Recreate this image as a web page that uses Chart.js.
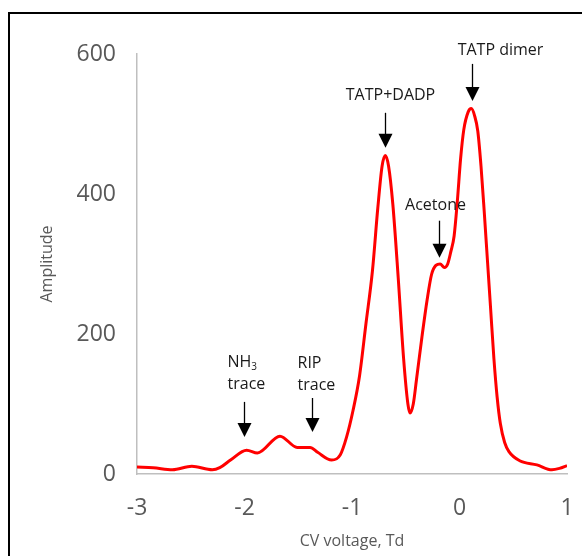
<!DOCTYPE html>
<html>
<head>
<meta charset="utf-8">
<script src="https://cdn.jsdelivr.net/npm/chart.js@4.4.1/dist/chart.umd.min.js"></script>
<style>
  html, body { margin: 0; padding: 0; background: #ffffff; }
  #specWrap { width: 582px; height: 556px; position: relative; }
</style>
</head>
<body>
<div id="specWrap"><canvas id="specChart" width="582" height="556"></canvas></div>
<script>
/* DATA */
const cvVoltage = [-3.00, -2.85, -2.67, -2.49, -2.30, -2.23, -2.13, -1.98, -1.88, -1.67,
    -1.51, -1.39, -1.32, -1.19, -1.11, -1.05, -0.99, -0.93, -0.87, -0.81,
    -0.76, -0.72, -0.69, -0.66, -0.62, -0.57, -0.52, -0.48, -0.46, -0.43,
    -0.40, -0.35, -0.30, -0.26, -0.22, -0.18, -0.14, -0.11, -0.08, -0.05,
    -0.02, 0.01, 0.04, 0.08, 0.11, 0.14, 0.17, 0.20, 0.23, 0.26,
    0.29, 0.32, 0.35, 0.38, 0.42, 0.46, 0.56, 0.72, 0.86, 0.93, 1.00];
const amplitude = [10, 9, 6, 11, 6, 9, 20, 34, 30, 54,
    38, 38, 31, 20, 27, 53, 91, 140, 215, 290,
    380, 440, 455, 440, 385, 280, 165, 100, 87, 100,
    135, 195, 250, 285, 298, 300, 295, 300, 318, 340,
    390, 450, 492, 517, 522, 512, 490, 440, 375, 305,
    235, 165, 110, 72, 45, 32, 19, 13, 6, 8, 12];
const xTicks = [-3, -2, -1, 0, 1];
const yTicks = [0, 200, 400, 600];

/* peak labels: x in Td, arrow tip in amplitude units */
const peakLabels = [
    { lines: ['TATP dimer'], x: 0.116, tip: 533 },
    { lines: ['TATP+DADP'], x: -0.693, tip: 466 },
    { lines: ['Acetone'], x: -0.191, tip: 309 },
    { lines: ['NH|3', 'trace'], x: -2.005, tip: 53 },
    { lines: ['RIP', 'trace'], x: -1.372, tip: 60 }
];

/* label layout (pixels, relative to arrow tail) */
const labelStyle = [
    { len: 37, align: 'center', dx: 28, dy: [-13] },
    { len: 35, align: 'center', dx: 5, dy: [-17] },
    { len: 37, align: 'center', dx: -4, dy: [-15] },
    { len: 35, align: 'left', dx: -17, dy: [-39, -17] },
    { len: 34, align: 'left', dx: -15, dy: [-35, -13] }
];

const tickColor = '#595959';
const axisColor = '#bfbfbf';
const fontFamily = "'Open Sans', 'Liberation Sans', sans-serif";

const points = cvVoltage.map((v, i) => ({ x: v, y: amplitude[i] }));

const annotatePlugin = {
    id: 'annotatePlugin',
    beforeDraw(chart) {
        const ctx = chart.ctx;
        ctx.save();
        ctx.fillStyle = '#ffffff';
        ctx.fillRect(0, 0, chart.width, chart.height);
        ctx.strokeStyle = '#000000';
        ctx.lineWidth = 2;
        ctx.strokeRect(9, 13, 700, 700);
        ctx.restore();
    },
    afterDatasetsDraw(chart) {
        const ctx = chart.ctx;
        const xs = chart.scales.x, ys = chart.scales.y;
        ctx.save();
        peakLabels.forEach((p, i) => {
            const st = labelStyle[i];
            const px = Math.round(xs.getPixelForValue(p.x)) + 0.5;
            const tipY = ys.getPixelForValue(p.tip);
            const tailY = tipY - st.len;

            ctx.strokeStyle = '#000000';
            ctx.lineWidth = 1.3;
            ctx.beginPath();
            ctx.moveTo(px, tailY);
            ctx.lineTo(px, tipY - 10);
            ctx.stroke();

            ctx.fillStyle = '#000000';
            ctx.beginPath();
            ctx.moveTo(px - 7, tipY - 14);
            ctx.lineTo(px + 7, tipY - 14);
            ctx.lineTo(px, tipY);
            ctx.closePath();
            ctx.fill();

            ctx.fillStyle = '#1a1a1a';
            ctx.textBaseline = 'middle';
            p.lines.forEach((line, j) => {
                const ty = tailY + st.dy[j];
                const tx = px + st.dx;
                const parts = line.split('|');
                ctx.font = '16px ' + fontFamily;
                if (parts.length === 1) {
                    ctx.textAlign = st.align;
                    ctx.fillText(line, tx, ty);
                } else {
                    ctx.textAlign = 'left';
                    ctx.fillText(parts[0], tx, ty);
                    const w = ctx.measureText(parts[0]).width;
                    ctx.font = '10px ' + fontFamily;
                    ctx.fillText(parts[1], tx + w, ty + 4);
                }
            });
        });
        ctx.restore();
    }
};

const specCtx = document.getElementById('specChart').getContext('2d');

new Chart(specCtx, {
    type: 'line',
    data: {
        datasets: [{
            data: points,
            borderColor: '#ff0000',
            borderWidth: 3,
            pointRadius: 0,
            fill: false,
            cubicInterpolationMode: 'monotone'
        }]
    },
    options: {
        responsive: false,
        animation: false,
        layout: { padding: { top: 54, right: 15, left: 0, bottom: 0 } },
        plugins: {
            legend: { display: false },
            tooltip: { enabled: false }
        },
        scales: {
            x: {
                type: 'linear',
                min: xTicks[0],
                max: xTicks[xTicks.length - 1],
                afterBuildTicks: s => { s.ticks = xTicks.map(v => ({ value: v })); },
                afterFit: s => { s.height = 82; s.paddingRight = 0; s.paddingLeft = 0; },
                grid: { display: false, drawTicks: false },
                border: { color: axisColor, width: 1.5 },
                ticks: {
                    color: tickColor,
                    padding: 21,
                    maxRotation: 0,
                    font: { family: fontFamily, size: 23 }
                },
                title: {
                    display: true,
                    text: 'CV voltage, Td',
                    color: tickColor,
                    font: { family: fontFamily, size: 16 },
                    padding: { top: 0, bottom: 5 }
                }
            },
            y: {
                min: yTicks[0],
                max: yTicks[yTicks.length - 1],
                afterBuildTicks: s => { s.ticks = yTicks.map(v => ({ value: v })); },
                afterFit: s => { s.width = 137; },
                grid: { display: false, drawTicks: false },
                border: { color: axisColor, width: 1.5 },
                ticks: {
                    color: tickColor,
                    padding: 21,
                    font: { family: fontFamily, size: 23 }
                },
                title: {
                    display: true,
                    text: 'Amplitude',
                    color: tickColor,
                    font: { family: fontFamily, size: 16 },
                    padding: { top: 38, bottom: 0 }
                }
            }
        }
    },
    plugins: [annotatePlugin]
});
</script>
</body>
</html>
